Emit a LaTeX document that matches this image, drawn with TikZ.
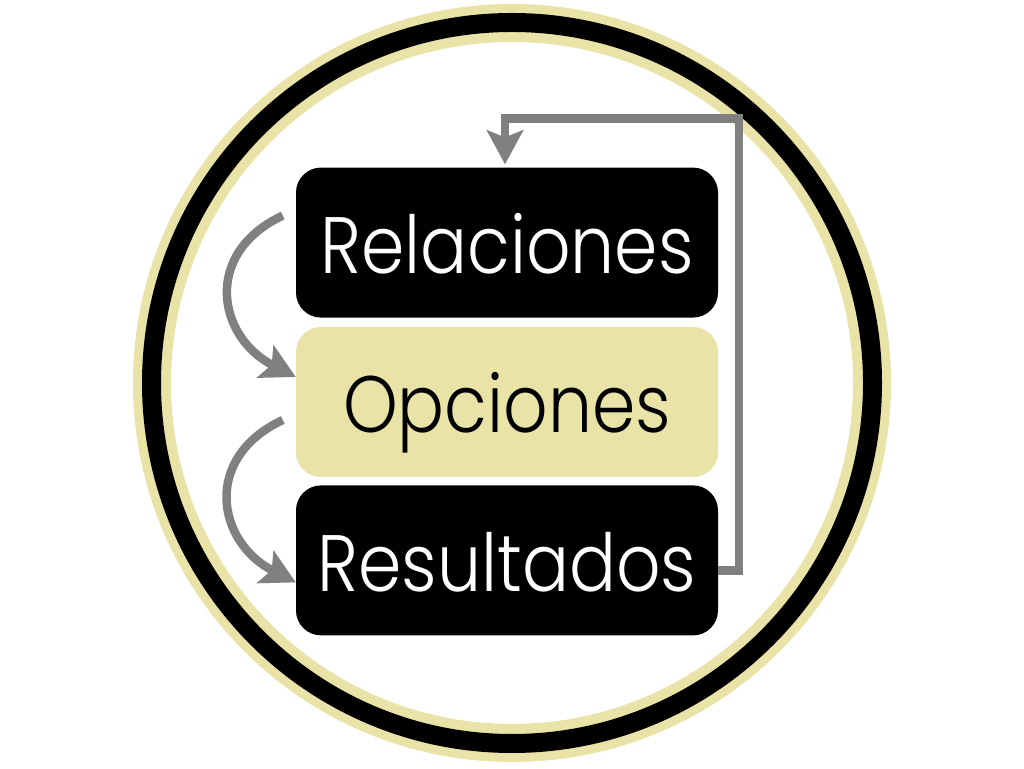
\documentclass[tikz,border=0pt]{standalone}
\usepackage{fontspec}
\IfFontExistsTF{Poppins Light}
    {\setmainfont{Poppins Light}[FakeStretch=0.87]}
    {\setmainfont{Poppins}[FakeStretch=0.85]}
\usetikzlibrary{positioning,arrows.meta}
\definecolor{beige}{RGB}{233,227,167}
\definecolor{gris}{RGB}{128,128,128}

\begin{document}
\begin{tikzpicture}[x=1pt,y=1pt,
    caja/.style={rounded corners=25pt, minimum width=422pt, minimum height=150pt,
        inner sep=0pt, text height=62pt, text depth=0pt,
        font=\fontsize{80}{96}\selectfont},
    flecha/.style={gris, line width=8.5pt, -{Stealth[length=34pt,width=36pt,inset=7pt]}}]
    % Fondo
    \fill[white] (0,0) rectangle (1024,768);

    % Anillos del circulo
    \coordinate (centro) at (512,385);
    \draw[beige, line width=38pt] (centro) circle (360pt);
    \draw[black, line width=19pt] (centro) circle (360.5pt);

    % Cajas
    \node[caja, fill=beige, text=black] (opc) at (507,366) {Opciones};
    \node[caja, fill=black, text=white, above=9pt of opc] (rel) {Relaciones};
    \node[caja, fill=black, text=white, below=8pt of opc] (res) {Resultados};

    % Flechas curvas
    \draw[flecha] ([xshift=-13pt,yshift=27pt]rel.west)
        to[out=205, in=153, looseness=1.4] ([yshift=25pt]opc.west);
    \draw[flecha] ([xshift=-13pt,yshift=-18pt]opc.west)
        to[out=205, in=153, looseness=1.4] ([yshift=-22pt]res.west);

    % Retroalimentacion
    \coordinate (esq) at (739,649.5);
    \draw[flecha] ([yshift=-10pt]res.east) -| (esq) -| ([xshift=-2pt,yshift=3pt]rel.north);
\end{tikzpicture}
\end{document}
